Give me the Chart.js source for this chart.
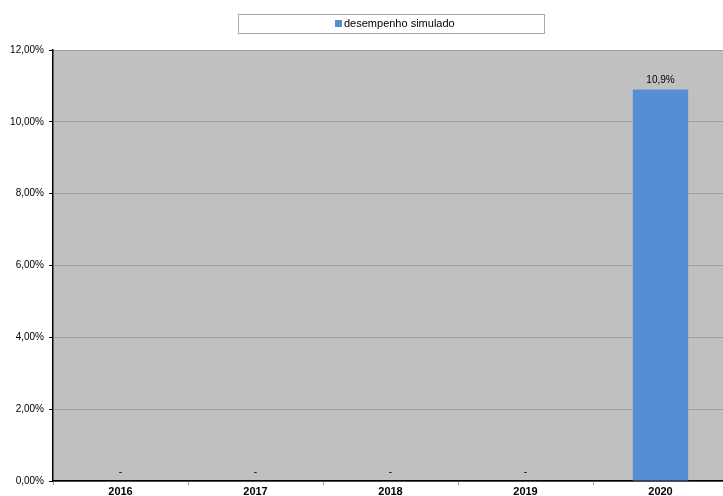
<!DOCTYPE html>
<html><head><meta charset="utf-8">
<script src="https://cdn.jsdelivr.net/npm/chart.js@4/dist/chart.umd.min.js"></script>
<style>html,body{margin:0;padding:0;overflow:hidden;background:#fff}#wrap{width:730px;height:496px;position:relative}</style>
</head><body><div id="wrap"><canvas id="c" width="730" height="496"></canvas></div>
<script>
const categories = ['2016','2017','2018','2019','2020'];
const seriesName = 'desempenho simulado';
const values = [0, 0, 0, 0, 10.9];
const valueLabels = ['-', '-', '-', '-', '10,9%'];
const yTicks = [0, 2, 4, 6, 8, 10, 12];

const FONT = "'Liberation Sans', Arial, sans-serif";

const plotBg = {
  id: 'plotBg',
  beforeDraw(chart) {
    const {ctx, chartArea: a} = chart;
    ctx.save();
    ctx.fillStyle = '#c0c0c0';
    ctx.fillRect(a.left, a.top, a.right - a.left, a.bottom - a.top);
    ctx.restore();
  }
};

const legendBox = {
  id: 'legendBox',
  afterDraw(chart) {
    const ctx = chart.ctx;
    ctx.save();
    ctx.fillStyle = '#fff';
    ctx.fillRect(238.5, 14.5, 306, 19);
    ctx.strokeStyle = '#a8a8a8';
    ctx.lineWidth = 1;
    ctx.strokeRect(238.5, 14.5, 306, 19);
    ctx.fillStyle = '#558ed5';
    ctx.fillRect(335, 20, 7, 7);
    ctx.fillStyle = '#000';
    ctx.font = '11px ' + FONT;
    ctx.textBaseline = 'middle';
    ctx.textAlign = 'left';
    ctx.fillText(seriesName, 344, 24);
    ctx.restore();
  }
};

const dataLabels = {
  id: 'dataLabels',
  afterDatasetsDraw(chart) {
    const ctx = chart.ctx;
    const meta = chart.getDatasetMeta(0);
    ctx.save();
    ctx.fillStyle = '#000';
    ctx.font = '10px ' + FONT;
    ctx.textAlign = 'center';
    ctx.textBaseline = 'bottom';
    meta.data.forEach((bar, i) => {
      ctx.fillText(valueLabels[i], bar.x, bar.y - 4);
    });
    ctx.restore();
  }
};

new Chart(document.getElementById('c'), {
  type: 'bar',
  data: {
    labels: categories,
    datasets: [{
      label: seriesName,
      data: values,
      backgroundColor: '#558ed5',
      borderWidth: 0,
      categoryPercentage: 1,
      barPercentage: 0.41
    }]
  },
  options: {
    responsive: false,
    animation: false,
    devicePixelRatio: 1,
    layout: { padding: { left: 0, top: 50, right: 2, bottom: 0 } },
    plugins: { legend: { display: false }, tooltip: { enabled: false } },
    scales: {
      x: {
        offset: true,
        grid: { display: true, offset: true, drawOnChartArea: false, drawTicks: true, tickLength: 4, tickColor: '#a0a0a0' },
        border: { display: true, color: '#000', width: 1.5 },
        ticks: { color: '#000', font: { family: FONT, size: 11, weight: 'bold' }, padding: 0, maxRotation: 0 },
        afterFit(s) { s.height = 15; }
      },
      y: {
        min: 0, max: 12,
        afterBuildTicks(s) { s.ticks = yTicks.map(v => ({ value: v })); },
        grid: { color: '#a0a0a0', tickColor: '#000', tickLength: 4, lineWidth: 1 },
        border: { display: true, color: '#000', width: 1.5 },
        ticks: {
          color: '#000', font: { family: FONT, size: 10 }, padding: 5,
          callback: v => v.toFixed(2).replace('.', ',') + '%'
        },
        afterFit(s) { s.width = 53; }
      }
    }
  },
  plugins: [plotBg, legendBox, dataLabels]
});
</script></body></html>
